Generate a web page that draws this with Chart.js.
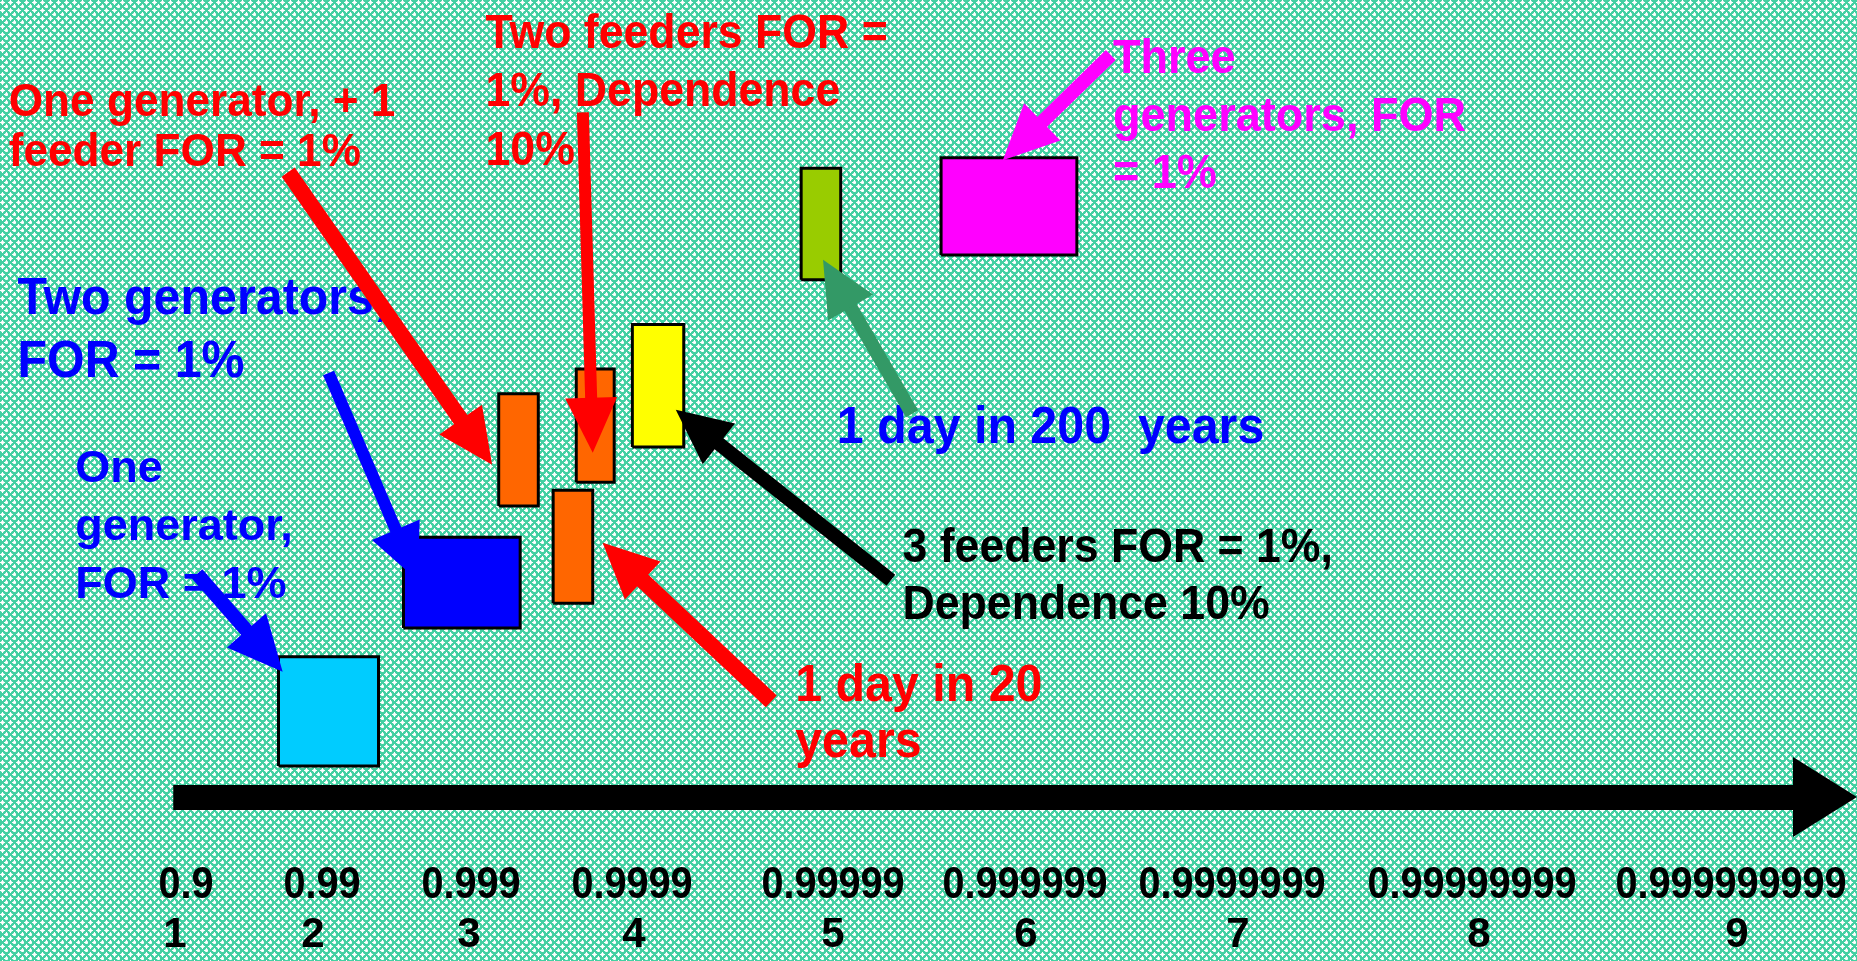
<!DOCTYPE html>
<html>
<head>
<meta charset="utf-8">
<title>Reliability vs cost of supply options</title>
<script src="https://cdn.jsdelivr.net/npm/chart.js@4.4.1/dist/chart.umd.min.js"></script>
<style>
    html, body { margin: 0; padding: 0; background: #8cdec4; }
    #wrap { width: 1857px; height: 961px; position: relative; }
</style>
</head>
<body>
<div id="wrap"><canvas id="chart"></canvas></div>
<script>
// Axis: number of nines of availability
const tickNines = ['0.9', '0.99', '0.999', '0.9999', '0.99999', '0.999999', '0.9999999', '0.99999999', '0.999999999'];
const tickNumbers = [1, 2, 3, 4, 5, 6, 7, 8, 9];
const AXIS_START = 0.99;

// Boxes: reliability range (nines) and relative cost range
const boxLabels = ['One generator', 'Two generators', 'One generator + 1 feeder', 'Two feeders, dependence 10%',
    '1 day in 20 years', '3 feeders, dependence 10%', '1 day in 200 years', 'Three generators'];
const boxNinesFrom = [1.75, 2.58, 3.18, 3.65, 3.51, 3.99, 4.84, 5.56];
const boxNinesTo = [2.42, 3.31, 3.42, 3.88, 3.75, 4.25, 5.04, 6.24];
const boxCostLow = [3.9, 21.2, 36.5, 39.5, 24.3, 43.9, 64.9, 68.0];
const boxCostHigh = [17.6, 32.6, 50.6, 53.7, 38.5, 59.3, 78.9, 80.2];

// Callout texts, anchored in data units (left edge, first baseline)
const noteLines = [
    ['One generator, + 1', 'feeder FOR = 1%'],
    ['Two feeders FOR =', '1%, Dependence', '10%'],
    ['Three', 'generators, FOR', '= 1%'],
    ['Two generators,', 'FOR = 1%'],
    ['One', 'generator,', 'FOR = 1%'],
    ['1 day in 200  years'],
    ['3 feeders FOR = 1%,', 'Dependence 10%'],
    ['1 day in 20', 'years']
];
const noteNines = [0.05, 3.10, 6.41, 0.10, 0.43, 5.02, 5.36, 4.81];
const noteCost = [85.4, 94.0, 90.8, 60.6, 39.5, 44.4, 29.5, 12.0];

// Pointer arrows, from callout to box (data units)
const arrowFromNines = [1.82, 3.69, 4.69, 2.10, 1.16, 5.30, 5.41, 6.40];
const arrowFromCost = [78.4, 85.9, 12.0, 53.2, 28.0, 27.2, 48.1, 93.1];
const arrowToNines = [3.14, 3.75, 3.81, 2.67, 1.78, 4.21, 4.95, 5.88];
const arrowToCost = [41.7, 43.2, 31.9, 27.2, 15.7, 48.6, 67.4, 79.9];

// Styles
const boxColors = ['#00ccff', '#0000ff', '#ff6600', '#ff6600', '#ff6600', '#ffff00', '#99cc00', '#ff00ff'];
const noteStyles = [
    { color: '#ff0000', size: 46, sx: 0.96, lh: 50 },
    { color: '#ff0000', size: 48, sx: 0.93, lh: 58.5 },
    { color: '#ff00ff', size: 49, sx: 0.92, lh: 57.5 },
    { color: '#0000ff', size: 52, sx: 0.93, lh: 63 },
    { color: '#0000ff', size: 45, sx: 1.0, lh: 58 },
    { color: '#0000ff', size: 52, sx: 0.93, lh: 58 },
    { color: '#000000', size: 48, sx: 0.93, lh: 57 },
    { color: '#ff0000', size: 52, sx: 0.93, lh: 56 }
];
const arrowStyles = [
    { color: '#ff0000', width: 16 },
    { color: '#ff0000', width: 12 },
    { color: '#ff0000', width: 16 },
    { color: '#0000ff', width: 12 },
    { color: '#0000ff', width: 14 },
    { color: '#000000', width: 14 },
    { color: '#339966', width: 14 },
    { color: '#ff00ff', width: 14 }
];
// hand placed nines labels sit a little off their tick
const ninesShift = [11, 9, 2, -2, 0, -1, -6, -7, -6];
const FONT = '"Liberation Sans", Arial, sans-serif';

// Uneven spacing of the hand drawn axis
class NinesScale extends Chart.LinearScale {
    static id = 'nines';

    knots() {
        const w = this.options.knotSpacing;
        const total = w.reduce((a, b) => a + b, 0);
        const out = [0];
        let acc = 0;
        w.forEach(s => { acc += s; out.push(acc / total); });
        return out;
    }

    buildTicks() {
        return tickNumbers.map(v => ({ value: v }));
    }

    getPixelForValue(value) {
        if (value == null || isNaN(value)) return NaN;
        const k = this.knots();
        const i = Math.max(0, Math.min(Math.floor(value), k.length - 2));
        return this.getPixelForDecimal(k[i] + (k[i + 1] - k[i]) * (value - i));
    }

    getValueForPixel(pixel) {
        const k = this.knots();
        const d = this.getDecimalForPixel(pixel);
        for (let i = 0; i < k.length - 1; i++) {
            if (d <= k[i + 1]) return i + (d - k[i]) / (k[i + 1] - k[i]);
        }
        return k.length - 1;
    }
}
Chart.register(NinesScale);

function makePattern(ctx) {
    const t = document.createElement('canvas');
    t.width = 8;
    t.height = 8;
    const c = t.getContext('2d');
    c.fillStyle = '#44d0a2';
    c.fillRect(0, 0, 8, 8);
    const plus = (x, y) => {
        c.fillStyle = 'rgba(255,255,255,0.75)';
        c.fillRect(x - 1, y - 1, 3, 3);
        c.fillStyle = '#ffffff';
        c.fillRect(x - 2, y, 5, 1);
        c.fillRect(x, y - 2, 1, 5);
    };
    plus(2, 2);
    plus(6, 6);
    return ctx.createPattern(t, 'repeat');
}

function drawArrow(ctx, x1, y1, x2, y2, width, color) {
    const headLen = 55, headHalf = 26;
    const len = Math.hypot(x2 - x1, y2 - y1);
    const ux = (x2 - x1) / len, uy = (y2 - y1) / len;
    const bx = x2 - ux * headLen, by = y2 - uy * headLen;
    ctx.strokeStyle = color;
    ctx.fillStyle = color;
    ctx.lineWidth = width;
    ctx.lineCap = 'butt';
    ctx.beginPath();
    ctx.moveTo(x1, y1);
    ctx.lineTo(bx + ux * 2, by + uy * 2);
    ctx.stroke();
    ctx.beginPath();
    ctx.moveTo(x2, y2);
    ctx.lineTo(bx - uy * headHalf, by + ux * headHalf);
    ctx.lineTo(bx + uy * headHalf, by - ux * headHalf);
    ctx.closePath();
    ctx.fill();
}

const backdrop = {
    id: 'backdrop',
    beforeDraw(chart) {
        const { ctx, width, height } = chart;
        ctx.save();
        ctx.fillStyle = makePattern(ctx);
        ctx.fillRect(0, 0, width, height);
        ctx.restore();
    }
};

function squeezedText(ctx, text, x, y, sx) {
    ctx.save();
    ctx.translate(x, y);
    ctx.scale(sx, 1);
    ctx.fillText(text, 0, 0);
    ctx.restore();
}

const axisArrow = {
    id: 'axisArrow',
    afterDatasetsDraw(chart) {
        const { ctx, chartArea, scales: { x } } = chart;
        const y = chartArea.bottom;
        const x0 = x.getPixelForValue(AXIS_START);
        const x1 = chartArea.right;
        ctx.save();
        ctx.fillStyle = '#000';
        ctx.fillRect(x0, y - 12, x1 - 60 - x0, 25);
        ctx.beginPath();
        ctx.moveTo(x1 - 64, y - 40);
        ctx.lineTo(x1, y);
        ctx.lineTo(x1 - 64, y + 40);
        ctx.closePath();
        ctx.fill();

        ctx.textAlign = 'center';
        ctx.textBaseline = 'alphabetic';
        x.ticks.forEach((t, i) => {
            const px = x.getPixelForTick(i);
            ctx.font = `bold 44px ${FONT}`;
            squeezedText(ctx, tickNines[i], px + ninesShift[i], y + 101, 0.9);
            ctx.font = `bold 42px ${FONT}`;
            squeezedText(ctx, String(tickNumbers[i]), px, y + 150, 1);
        });
        ctx.restore();
    }
};

const callouts = {
    id: 'callouts',
    afterDatasetsDraw(chart) {
        const { ctx, scales: { x, y } } = chart;
        ctx.save();
        ctx.textAlign = 'left';
        ctx.textBaseline = 'alphabetic';
        noteLines.forEach((lines, i) => {
            const st = noteStyles[i];
            ctx.fillStyle = st.color;
            ctx.font = `bold ${st.size}px ${FONT}`;
            const px = x.getPixelForValue(noteNines[i]);
            const py = y.getPixelForValue(noteCost[i]);
            lines.forEach((line, j) => squeezedText(ctx, line, px, py + j * st.lh, st.sx));
        });
        arrowFromNines.forEach((v, i) => {
            drawArrow(ctx,
                x.getPixelForValue(v), y.getPixelForValue(arrowFromCost[i]),
                x.getPixelForValue(arrowToNines[i]), y.getPixelForValue(arrowToCost[i]),
                arrowStyles[i].width, arrowStyles[i].color);
        });
        ctx.restore();
    }
};

function boxDataset(i) {
    return {
        label: boxLabels[i],
        data: [
            { x: boxNinesFrom[i], y: boxCostLow[i] },
            { x: boxNinesTo[i], y: boxCostLow[i] },
            { x: boxNinesTo[i], y: boxCostHigh[i] },
            { x: boxNinesFrom[i], y: boxCostHigh[i] },
            { x: boxNinesFrom[i], y: boxCostLow[i] }
        ],
        borderColor: '#000000',
        borderWidth: 3,
        borderJoinStyle: 'miter',
        backgroundColor: boxColors[i],
        fill: 'shape',
        pointRadius: 0,
        tension: 0
    };
}

function init() {
    const ctx = document.getElementById('chart').getContext('2d');
    new Chart(ctx, {
        type: 'line',
        data: { datasets: boxLabels.map((_, i) => boxDataset(i)) },
        options: {
            responsive: true,
            maintainAspectRatio: false,
            animation: false,
            events: [],
            layout: { padding: 0 },
            plugins: {
                legend: { display: false },
                tooltip: { enabled: false }
            },
            scales: {
                x: {
                    type: 'nines',
                    min: 0,
                    max: 10,
                    knotSpacing: [175, 138, 156, 165, 199, 193, 212, 241, 258, 120],
                    grid: { display: false },
                    border: { display: false },
                    ticks: { display: false },
                    afterFit: s => { s.height = 164; }
                },
                y: {
                    type: 'linear',
                    display: false,
                    min: 0,
                    max: 100
                }
            }
        },
        plugins: [backdrop, axisArrow, callouts]
    });
}

document.addEventListener('DOMContentLoaded', init);
</script>
</body>
</html>
